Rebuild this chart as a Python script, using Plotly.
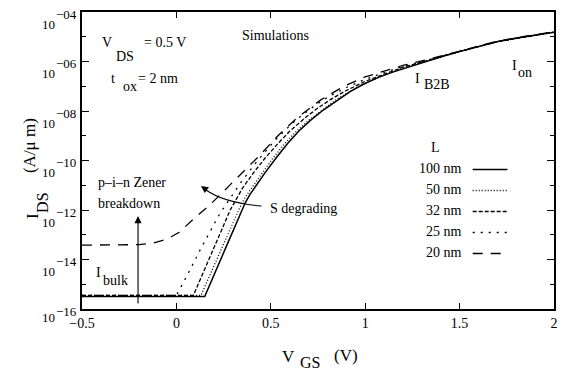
import numpy as np
import plotly.graph_objects as go

# ---------------- data (log10 of I_DS in A/um) ----------------
v_100 = [-0.5, 0.15, 0.26, 0.347, 0.364, 0.39, 0.42, 0.469, 0.53, 0.59, 0.65, 0.713, 0.78, 0.852, 0.92, 0.99,
         1.07, 1.15, 1.25, 1.34, 1.42, 1.5, 1.6, 1.69, 1.8, 1.9, 2.0]
l_100 = [-15.5, -15.5, -13.55, -12.0, -11.72, -11.37, -11.03, -10.5, -9.88, -9.3, -8.8, -8.36, -7.95, -7.56, -7.22,
         -6.92, -6.64, -6.42, -6.17, -5.95, -5.77, -5.6, -5.39, -5.21, -5.05, -4.93, -4.82]

v_50 = [-0.5, 0.13, 0.33, 0.36, 0.39, 0.45, 0.51, 0.575, 0.635, 0.70, 0.77, 0.84, 0.92, 1.0, 1.1, 1.2, 1.35, 1.5,
        1.7, 1.85, 2.0]
l_50 = [-15.45, -15.45, -12.0, -11.55, -11.2, -10.55, -9.92, -9.3, -8.82, -8.38, -7.96, -7.57, -7.2, -6.88, -6.55,
        -6.27, -5.93, -5.6, -5.2, -5.0, -4.82]

v_32 = [-0.5, 0.09, 0.285, 0.32, 0.35, 0.41, 0.47, 0.54, 0.6, 0.67, 0.74, 0.82, 0.9, 1.0, 1.1, 1.2, 1.35, 1.5,
        1.7, 1.85, 2.0]
l_32 = [-15.45, -15.45, -12.0, -11.5, -11.12, -10.48, -9.9, -9.3, -8.82, -8.35, -7.93, -7.52, -7.17, -6.8, -6.5,
        -6.23, -5.92, -5.59, -5.2, -5.0, -4.81]

v_25 = [-0.5, 0.0, 0.06, 0.13, 0.23, 0.34, 0.42, 0.52, 0.6, 0.66, 0.73, 0.8, 0.9, 1.0, 1.1, 1.2, 1.35, 1.5, 1.7,
        1.85, 2.0]
l_25 = [-15.45, -15.45, -14.6, -13.55, -12.15, -10.9, -10.1, -9.2, -8.6, -8.2, -7.8, -7.45, -7.05, -6.72, -6.45,
        -6.2, -5.9, -5.58, -5.19, -4.99, -4.81]

v_20 = [-0.5, -0.3, -0.2, -0.12, -0.05, 0.015, 0.1, 0.17, 0.25, 0.346, 0.434, 0.538, 0.643, 0.765, 0.887, 1.0,
        1.1, 1.2, 1.35, 1.5, 1.7, 1.85, 2.0]
l_20 = [-13.42, -13.42, -13.4, -13.33, -13.18, -12.9, -12.3, -11.85, -11.25, -10.55, -9.85, -9.0, -8.25, -7.55,
        -7.0, -6.62, -6.38, -6.16, -5.88, -5.57, -5.18, -4.98, -4.8]

series_names = ["100 nm", "50 nm", "32 nm", "25 nm", "20 nm"]
series_v = [v_100, v_50, v_32, v_25, v_20]
series_l = [l_100, l_50, l_32, l_25, l_20]
series_dash = ["solid", "1px,2px", "4px,2px", "2px,6px", "10px,8px"]
series_width = [1.5, 1.3, 1.3, 1.3, 1.3]

x_ticks = [-0.5, 0, 0.5, 1, 1.5, 2]
x_ticktext = ["−0.5", "0", "0.5", "1", "1.5", "2"]
y_major_exp = [-16, -14, -12, -10, -8, -6, -4]
y_minor_exp = [-15, -13, -11, -9, -7, -5]
y_sup_text = ["−16", "−14", "−12", "−10", "−08", "−06", "−04"]

# ---------------- layout geometry ----------------
W, H = 561, 370
ML, MR, MT, MB = 82, 3, 12, 61
PW, PH = W - ML - MR, H - MT - MB
FONT = "Times New Roman, Liberation Serif, Tinos, DejaVu Serif, serif"


def px(x):
    return (x - ML) / PW


def py(y):
    return (H - MB - y) / PH


fig = go.Figure()
for name, v, l, d, w in zip(series_names, series_v, series_l, series_dash, series_width):
    fig.add_trace(go.Scatter(x=v, y=10 ** np.array(l), mode="lines", name=name,
                             line=dict(color="black", width=w, dash=d), showlegend=False))

ann = []


def text(x, y, t, size=14, xanchor="center", yanchor="middle", **kw):
    ann.append(dict(x=px(x), y=py(y), xref="paper", yref="paper", text=t, showarrow=False,
                    xanchor=xanchor, yanchor=yanchor, font=dict(family=FONT, size=size, color="black"), **kw))


# y tick labels (10 with big exponent)
for e, s in zip(y_major_exp, y_sup_text):
    low = e == y_major_exp[0]
    ann.append(dict(x=px(56.5), y=e, xref="paper", yref="y", yshift=-8.5 if low else -12, text="10",
                    showarrow=False, xanchor="right", yanchor="middle",
                    font=dict(family=FONT, size=13, color="black")))
    ann.append(dict(x=px(53.5), y=e, xref="paper", yref="y", yshift=-2.5 if low else -2, text=s,
                    showarrow=False, xanchor="left", yanchor="middle",
                    font=dict(family=FONT, size=13, color="black")))

# annotations
text(107, 43, "V")
text(125, 57, "DS")
text(143, 43, "= 0.5 V", xanchor="left")
text(113, 78, "t")
text(130, 86, "ox")
text(136, 78, "= 2 nm", xanchor="left")
text(277, 36, "Simulations")
text(420, 78, "I")
text(440, 84, "B2B")
text(518, 65, "I")
text(529, 72, "on")
text(96, 183, "p–i–n Zener", xanchor="left")
text(96, 204, "breakdown", xanchor="left")
text(99, 272, "I")
text(116, 280, "bulk")
text(270, 208, "S degrading", xanchor="left")
# axis titles
text(290, 356, "V", size=17)
text(312, 362, "GS", size=16)
text(348, 355, "(V)", size=17)
ann.append(dict(x=px(20), y=py(221), xref="paper", yref="paper", text="I", showarrow=False, textangle=-90,
                font=dict(family=FONT, size=17, color="black")))
ann.append(dict(x=px(31), y=py(203), xref="paper", yref="paper", text="DS", showarrow=False, textangle=-90,
                font=dict(family=FONT, size=16, color="black")))
ann.append(dict(x=px(18), y=py(146), xref="paper", yref="paper", text="(A/μ m)", showarrow=False, textangle=-90,
                font=dict(family=FONT, size=17, color="black")))

# legend
text(438, 147, "L")
leg_y = [168.5, 189.5, 210.5, 231.5, 252.5]
shapes = []
for name, d, w, yy in zip(series_names, series_dash, series_width, leg_y):
    text(467, yy, name, xanchor="right")
    shapes.append(dict(type="line", xref="paper", yref="paper", x0=px(476), x1=px(511), y0=py(yy + 1), y1=py(yy + 1),
                       line=dict(color="black", width=w, dash=d)))

# vertical arrow
ann.append(dict(x=px(138.5), y=py(216), xref="paper", yref="paper", ax=0, ay=89, text="", showarrow=True,
                arrowhead=2, arrowsize=1.3, arrowwidth=1.1, arrowcolor="black", standoff=0))
# curved arrow
shapes.append(dict(type="path", xref="paper", yref="paper",
                   path=f"M {px(263)},{py(206)} Q {px(226)},{py(203)} {px(207)},{py(190)}",
                   line=dict(color="black", width=1.1)))
ann.append(dict(x=px(202), y=py(186), xref="paper", yref="paper", ax=7, ay=5, text="", showarrow=True,
                arrowhead=2, arrowsize=1.3, arrowwidth=1.1, arrowcolor="black", standoff=0))

fig.update_layout(
    width=W, height=H, margin=dict(l=ML, r=MR, t=MT, b=MB),
    paper_bgcolor="white", plot_bgcolor="white",
    font=dict(family=FONT, size=14, color="black"),
    annotations=ann, shapes=shapes, showlegend=False,
)
fig.update_xaxes(range=[-0.5, 2], tickvals=x_ticks, ticktext=x_ticktext, ticks="inside", ticklen=6,
                 tickwidth=1, tickcolor="black", showline=True, linecolor="black", linewidth=1.5, mirror="ticks",
                 showgrid=False, zeroline=False, tickfont=dict(family=FONT, size=14, color="black"))
fig.update_yaxes(type="log", range=[-16, -4], tickvals=[10.0 ** e for e in y_major_exp], showticklabels=False,
                 ticks="inside", ticklen=7, tickwidth=1, tickcolor="black", showline=True, linecolor="black",
                 linewidth=1.5, mirror="ticks", showgrid=False, zeroline=False,
                 minor=dict(tickvals=[10.0 ** e for e in y_minor_exp], ticks="inside", ticklen=4,
                            tickcolor="black", tickwidth=1, showgrid=False))

fig.write_html("out.html")
